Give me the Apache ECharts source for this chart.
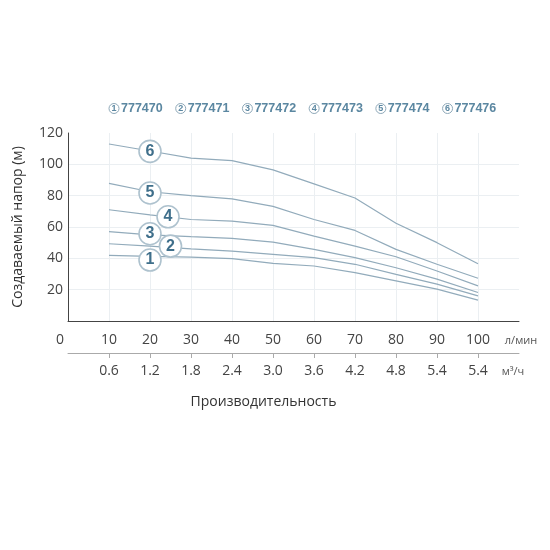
<!DOCTYPE html>
<html>
<head>
<meta charset="utf-8">
<script src="https://cdn.jsdelivr.net/npm/echarts@6/dist/echarts.min.js"></script>
<style>
html,body{margin:0;padding:0;background:#fff;}
#chart{width:550px;height:550px;}
</style>
</head>
<body>
<div id="chart"></div>
<script>
// Flow (l/min) at which each curve is sampled
const flowLmin = [10, 20, 30, 40, 50, 60, 70, 80, 90, 100];
// Head (m) per pump model
const head777470 = [41.9, 41.3, 40.8, 39.8, 36.8, 35.1, 30.9, 25.6, 20.3, 13.3];
const head777471 = [49.3, 47.8, 46.1, 44.6, 42.5, 40.4, 36.2, 29.8, 23.5, 16.0];
const head777472 = [57.0, 55.0, 53.8, 52.7, 50.4, 45.7, 40.4, 34.0, 26.7, 18.2];
const head777473 = [71.0, 67.8, 64.8, 63.7, 61.0, 54.2, 47.8, 41.0, 31.9, 22.4];
const head777474 = [87.8, 82.5, 80.0, 78.0, 73.2, 64.8, 57.8, 45.7, 36.2, 27.3];
const head777476 = [113.0, 108.5, 104.0, 102.4, 96.5, 87.5, 78.5, 62.4, 50.0, 36.6];
const modelNames = ['777470', '777471', '777472', '777473', '777474', '777476'];
const modelNumbers = ['1', '2', '3', '4', '5', '6'];
// Circled curve markers (flow, head)
const markerFlow = [20, 25, 20, 24.4, 20, 20];
const markerHead = [38.9, 47.8, 55.7, 66.5, 81.7, 108.3];
// Axis tick labels
const flowTickLabels = ['0', '10', '20', '30', '40', '50', '60', '70', '80', '90', '100', 'л/мин'];
const m3hTickLabels = ['', '0.6', '1.2', '1.8', '2.4', '3.0', '3.6', '4.2', '4.8', '5.4', '5.4', 'м³/ч'];
const yTickLabels = ['', '20', '40', '60', '80', '100', '120'];

const heads = [head777470, head777471, head777472, head777473, head777474, head777476];
const lineColor = '#92abbb';
const font = 'Open Sans';

const chart = echarts.init(document.getElementById('chart'), null, {renderer: 'canvas'});

const lineSeries = heads.map((h, i) => ({
  name: modelNames[i],
  type: 'line',
  xAxisIndex: 0,
  yAxisIndex: 0,
  data: flowLmin.map((f, j) => [f, h[j]]),
  showSymbol: false,
  symbol: 'none',
  color: lineColor,
  lineStyle: {color: lineColor, width: 1.2},
  silent: true,
  z: 2
}));

const markerSeries = {
  type: 'scatter',
  xAxisIndex: 0,
  yAxisIndex: 0,
  data: markerFlow.map((f, i) => [f, markerHead[i], modelNumbers[i]]),
  symbol: 'circle',
  symbolSize: 22,
  itemStyle: {color: '#ffffff', borderColor: '#aec2ce', borderWidth: 1.6, opacity: 1},
  label: {
    show: true,
    position: 'inside',
    formatter: p => p.data[2],
    fontFamily: 'Liberation Sans',
    fontSize: 16,
    fontWeight: 'bold',
    color: '#3f6f8b'
  },
  silent: true,
  z: 5
};

const gridColor = '#ebeff2';

const option = {
  backgroundColor: '#ffffff',
  animation: false,
  textStyle: {fontFamily: font},
  legend: {
    data: modelNames,
    left: 99,
    top: 97,
    itemWidth: 0,
    itemHeight: 0,
    itemGap: 8,
    icon: 'circle',
    selectedMode: false,
    formatter: name => '{c|' + modelNumbers[modelNames.indexOf(name)] + '}{t|' + name + '}',
    textStyle: {
      rich: {
        c: {
          width: 10, height: 10, lineHeight: 11,
          borderRadius: 6, borderWidth: 1, borderColor: '#8fa9b9',
          align: 'center', fontSize: 9, fontWeight: 'bold', color: '#5b87a1',
          fontFamily: 'Liberation Sans'
        },
        t: {
          fontSize: 12.5, fontWeight: 'bold', color: '#5b87a1',
          fontFamily: 'Liberation Sans', padding: [0, 0, 0, 2]
        }
      }
    }
  },
  grid: {left: 68, right: 31, top: 133, bottom: 229, containLabel: false},
  xAxis: [
    {
      type: 'value', min: 0, max: 110, interval: 10,
      position: 'bottom',
      axisLine: {show: true, onZero: false, lineStyle: {color: '#444', width: 1}},
      axisTick: {show: false},
      splitLine: {
        show: true,
        lineStyle: {
          color: ['transparent', gridColor, gridColor, gridColor, gridColor, gridColor,
                  gridColor, gridColor, gridColor, gridColor, gridColor, 'transparent'],
          width: 1
        }
      },
      axisLabel: {
        margin: 12,
        fontSize: 14,
        color: '#444',
        formatter: v => {
          const i = Math.round(v / 10);
          if (i === 0) return '{z|' + flowTickLabels[i] + '}';
          if (i === 11) return '{u|' + flowTickLabels[i] + '}';
          return flowTickLabels[i];
        },
        rich: {
          z: {fontSize: 14, color: '#444', padding: [0, 16, 0, 0]},
          u: {fontSize: 11, color: '#555', padding: [2, 0, 0, 4]}
        }
      }
    },
    {
      type: 'value', min: 0, max: 110, interval: 10,
      position: 'bottom',
      offset: 32,
      name: 'Производительность',
      nameLocation: 'middle',
      nameGap: 42,
      nameTextStyle: {fontSize: 14, color: '#333', padding: [0, 60, 0, 0]},
      axisLine: {show: true, onZero: false, lineStyle: {color: '#aaa', width: 1}},
      axisTick: {
        show: true, length: 5, inside: false,
        customValues: [10, 20, 30, 40, 50, 60, 70, 80, 90, 100],
        lineStyle: {color: '#aaa'}
      },
      splitLine: {show: false},
      axisLabel: {
        margin: 11,
        fontSize: 14,
        color: '#444',
        formatter: v => {
          const i = Math.round(v / 10);
          if (i === 11) return '{u|' + m3hTickLabels[i] + '}';
          return m3hTickLabels[i];
        },
        rich: {
          u: {fontSize: 11, color: '#555', padding: [2, 12, 0, 0]}
        }
      }
    }
  ],
  yAxis: {
    type: 'value', min: 0, max: 120, interval: 20,
    name: 'Создаваемый напор (м)',
    nameLocation: 'middle',
    nameGap: 43,
    nameRotate: 90,
    nameTextStyle: {fontSize: 14, color: '#333'},
    axisLine: {show: true, lineStyle: {color: '#444', width: 1}},
    axisTick: {show: false},
    splitLine: {
      show: true,
      lineStyle: {
        color: ['transparent', gridColor, gridColor, gridColor, gridColor, gridColor, 'transparent'],
        width: 1
      }
    },
    axisLabel: {
      margin: 5,
      fontSize: 14,
      color: '#444',
      formatter: v => yTickLabels[Math.round(v / 20)]
    }
  },
  series: [...lineSeries, markerSeries]
};

chart.setOption(option);
</script>
</body>
</html>
